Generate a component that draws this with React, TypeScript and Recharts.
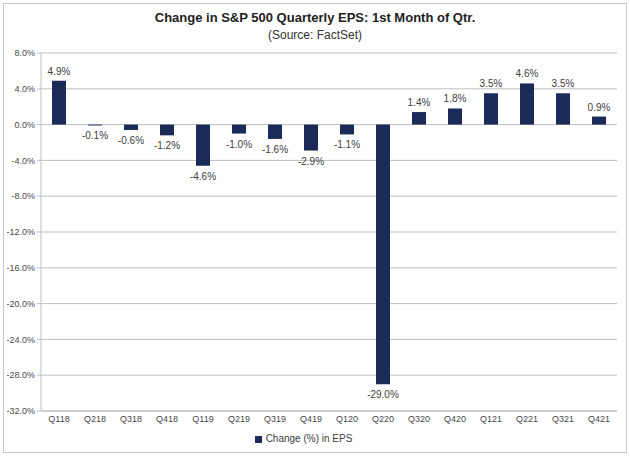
import { Bar, BarChart, CartesianGrid, LabelList, Legend, XAxis, YAxis } from "recharts";

const quarters = [
  "Q118", "Q218", "Q318", "Q418", "Q119", "Q219", "Q319", "Q419",
  "Q120", "Q220", "Q320", "Q420", "Q121", "Q221", "Q321", "Q421",
];
const epsChange = [4.9, -0.1, -0.6, -1.2, -4.6, -1.0, -1.6, -2.9, -1.1, -29.0, 1.4, 1.8, 3.5, 4.6, 3.5, 0.9];
const yTicks = [8, 4, 0, -4, -8, -12, -16, -20, -24, -28, -32];

const data = quarters.map((q, i) => ({ q, v: epsChange[i] }));

const NAVY = "#1c2a58";
const FONT = "'Liberation Sans', Arial, sans-serif";

function BarLabel(props: any) {
  const { x, y, width, height, value } = props;
  const top = Math.min(y, y + height);
  const bottom = Math.max(y, y + height);
  const ly = value >= 0 ? top - 6 : bottom + 14;
  return (
    <text x={x + width / 2} y={ly} textAnchor="middle" fontSize={10} fill="#404040" fontFamily={FONT}>
      {value.toFixed(1)}%
    </text>
  );
}

export default function App() {
  return (
    <div style={{ position: "absolute", left: 0, top: 0, width: 630, height: 456, background: "#fff", fontFamily: FONT }}>
      <div style={{ position: "absolute", left: 3, top: 3, width: 622, height: 448, border: "1px solid #c8c8c8" }} />
      <div style={{ position: "absolute", left: 0, top: 10, width: 630, textAlign: "center", fontSize: 13, fontWeight: "bold", color: "#222" }}>
        Change in S&amp;P 500 Quarterly EPS: 1st Month of Qtr.
      </div>
      <div style={{ position: "absolute", left: 0, top: 28, width: 630, textAlign: "center", fontSize: 12, color: "#333" }}>
        (Source: FactSet)
      </div>
      <div style={{ position: "absolute", left: 0, top: 0 }}>
        <BarChart width={630} height={456} data={data} margin={{ top: 53, right: 13, bottom: 0, left: 0 }} barCategoryGap="30%">
          <CartesianGrid vertical={false} stroke="#bfbfbf" />
          <XAxis
            dataKey="q"
            interval={0}
            tickLine={false}
            axisLine={{ stroke: "#bfbfbf" }}
            tick={{ fontSize: 9, fill: "#484848", fontFamily: FONT, dy: -3 }}
            height={19}
          />
          <YAxis
            domain={[-32, 8]}
            ticks={yTicks}
            interval={0}
            width={41}
            tickSize={4}
            tickLine={{ stroke: "#bfbfbf" }}
            axisLine={{ stroke: "#bfbfbf" }}
            tickFormatter={(v: number) => `${v.toFixed(1)}%`}
            tick={{ fontSize: 9, fill: "#484848", fontFamily: FONT }}
          />
          <Legend
            verticalAlign="bottom"
            iconType="square"
            iconSize={7}
            height={26}
            wrapperStyle={{ fontSize: 10, fontFamily: FONT, color: "#404040", top: 433, bottom: "auto" }}
            formatter={() => <span style={{ color: "#404040" }}>Change (%) in EPS</span>}
          />
          <Bar dataKey="v" name="Change (%) in EPS" fill={NAVY} barSize={14} isAnimationActive={false}>
            <LabelList dataKey="v" content={<BarLabel />} />
          </Bar>
        </BarChart>
      </div>
    </div>
  );
}
